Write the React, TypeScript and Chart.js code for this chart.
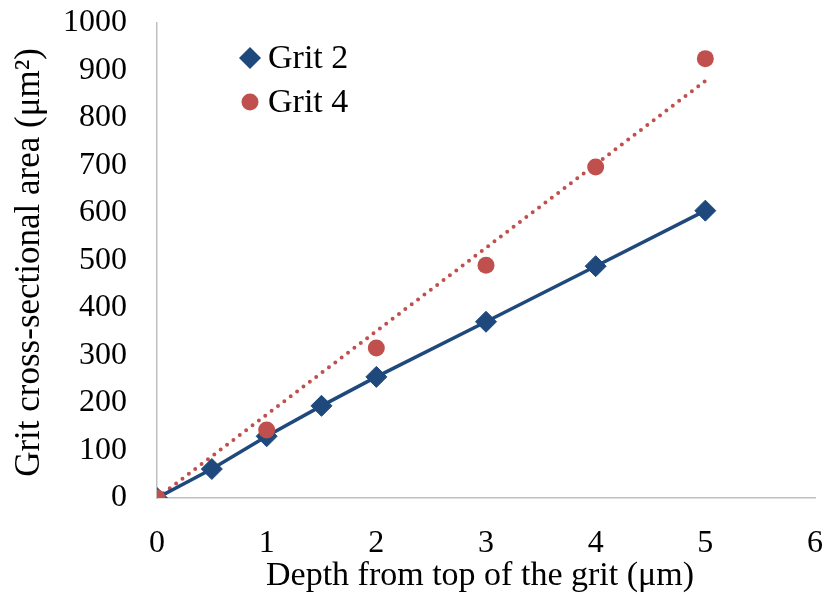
import React, { useEffect, useRef } from "react";
import { Chart, registerables } from "chart.js";

Chart.register(...registerables);

// Measured grit cross-sectional area against depth from the grit top
const depthGrit2 = [0, 0.5, 1, 1.5, 2, 3, 4, 5];
const areaGrit2 = [0, 61, 130, 194, 255, 371, 488, 605];
const depthGrit4 = [0, 1, 2, 3, 4, 5];
const areaGrit4 = [0, 143, 316, 490, 697, 925];

const xTickValues = [0, 1, 2, 3, 4, 5, 6];
const yTickValues = [0, 100, 200, 300, 400, 500, 600, 700, 800, 900, 1000];

const seriesNames = ["Grit 2", "Grit 4"];
const xTitle = "Depth from top of the grit (μm)";
const yTitle = "Grit cross-sectional area (μm²)";

const BLUE = "#1F497D";
const RED = "#C0504D";
const AXIS_GREY = "#BFBFBF";
const FONT = "'Liberation Serif', 'Times New Roman', serif";

// Linear trend through the origin for Grit 4 (least squares, zero intercept)
function zeroInterceptSlope(xs: number[], ys: number[]): number {
  let sxy = 0;
  let sxx = 0;
  for (let i = 0; i < xs.length; i++) {
    sxy += xs[i] * ys[i];
    sxx += xs[i] * xs[i];
  }
  return sxy / sxx;
}

const pointsOf = (xs: number[], ys: number[]) => xs.map((x, i) => ({ x, y: ys[i] }));

// Keep the plot area fixed by the layout padding alone
const noScalePadding = (scale: any) => {
  scale.paddingTop = 0;
  scale.paddingBottom = 0;
  scale.paddingLeft = 0;
  scale.paddingRight = 0;
};

// Legend placed inside the plot, top-left
const innerLegend = {
  id: "innerLegend",
  afterDraw(chart: any) {
    const ctx = chart.ctx as CanvasRenderingContext2D;
    const x = chart.scales.x;
    const y = chart.scales.y;
    const mx = x.left + 93;
    const rows = [y.top + 35, y.top + 79];
    ctx.save();
    // diamond
    ctx.fillStyle = BLUE;
    ctx.beginPath();
    ctx.moveTo(mx - 11, rows[0]);
    ctx.lineTo(mx, rows[0] - 11);
    ctx.lineTo(mx + 11, rows[0]);
    ctx.lineTo(mx, rows[0] + 11);
    ctx.closePath();
    ctx.fill();
    // circle
    ctx.fillStyle = RED;
    ctx.beginPath();
    ctx.arc(mx, rows[1], 8.5, 0, Math.PI * 2);
    ctx.fill();
    ctx.fillStyle = "#000";
    ctx.font = `34px ${FONT}`;
    ctx.textAlign = "left";
    ctx.textBaseline = "middle";
    ctx.fillText(seriesNames[0], mx + 18, rows[0] + 1);
    ctx.fillText(seriesNames[1], mx + 18, rows[1] + 1);
    ctx.restore();
  },
};

// Axis titles
const axisTitles = {
  id: "axisTitles",
  afterDraw(chart: any) {
    const ctx = chart.ctx as CanvasRenderingContext2D;
    const area = chart.chartArea;
    ctx.save();
    ctx.fillStyle = "#000";
    ctx.textAlign = "center";
    ctx.textBaseline = "middle";
    ctx.font = `34px ${FONT}`;
    ctx.fillText(xTitle, (area.left + area.right) / 2 - 6, 576);
    ctx.font = `35px ${FONT}`;
    ctx.translate(30, (area.top + area.bottom) / 2 + 2);
    ctx.rotate(-Math.PI / 2);
    ctx.fillText(yTitle, 0, 0);
    ctx.restore();
  },
};

export default function App() {
  const canvasRef = useRef<HTMLCanvasElement | null>(null);

  useEffect(() => {
    const canvas = canvasRef.current;
    if (!canvas) return;
    const slope = zeroInterceptSlope(depthGrit4, areaGrit4);
    const lastX = depthGrit4[depthGrit4.length - 1];

    const chart = new Chart(canvas, {
      type: "scatter",
      data: {
        datasets: [
          {
            label: seriesNames[1],
            data: pointsOf(depthGrit4, areaGrit4),
            pointStyle: "circle",
            pointRadius: 8.5,
            pointBackgroundColor: RED,
            pointBorderColor: RED,
            pointBorderWidth: 0,
            showLine: false,
            order: 0,
          },
          {
            label: seriesNames[0],
            data: pointsOf(depthGrit2, areaGrit2),
            pointStyle: "rectRot",
            pointRadius: 10.5,
            pointBackgroundColor: BLUE,
            pointBorderColor: BLUE,
            pointBorderWidth: 1,
            showLine: true,
            borderColor: BLUE,
            borderWidth: 3.5,
            order: 1,
          },
          {
            label: "Linear (Grit 4)",
            data: [
              { x: 0, y: 0 },
              { x: lastX, y: slope * lastX },
            ],
            showLine: true,
            pointRadius: 0,
            borderColor: RED,
            borderWidth: 4,
            borderDash: [0, 8],
            borderCapStyle: "round",
            order: 2,
          },
        ],
      },
      options: {
        responsive: false,
        maintainAspectRatio: false,
        animation: false,
        layout: { padding: { top: 23, right: 12, left: 0, bottom: 0 } },
        plugins: {
          legend: { display: false },
          tooltip: { enabled: false },
          title: { display: false },
        },
        scales: {
          x: {
            type: "linear",
            min: 0,
            max: 6,
            afterBuildTicks: (scale: any) => {
              scale.ticks = xTickValues.map((v) => ({ value: v }));
            },
            afterFit: (scale: any) => {
              scale.height = 103;
              noScalePadding(scale);
            },
            grid: { display: false, drawTicks: false },
            border: { display: true, color: AXIS_GREY, width: 1.5 },
            ticks: {
              color: "#000",
              padding: 26,
              font: { family: FONT, size: 32 },
              callback: (v: any) => String(v),
            },
          },
          y: {
            type: "linear",
            min: 0,
            max: 1000,
            afterBuildTicks: (scale: any) => {
              scale.ticks = yTickValues.map((v) => ({ value: v }));
            },
            afterFit: (scale: any) => {
              scale.width = 157;
              noScalePadding(scale);
            },
            grid: { display: false, drawTicks: false },
            border: { display: true, color: AXIS_GREY, width: 1.5 },
            ticks: {
              color: "#000",
              padding: 30,
              font: { family: FONT, size: 32 },
              callback: (v: any) => String(v),
            },
          },
        },
      },
      plugins: [innerLegend, axisTitles],
    } as any);

    return () => chart.destroy();
  }, []);

  return (
    <div style={{ position: "fixed", left: 0, top: 0, width: 827, height: 601, background: "#fff" }}>
      <canvas ref={canvasRef} width={827} height={601} />
    </div>
  );
}
